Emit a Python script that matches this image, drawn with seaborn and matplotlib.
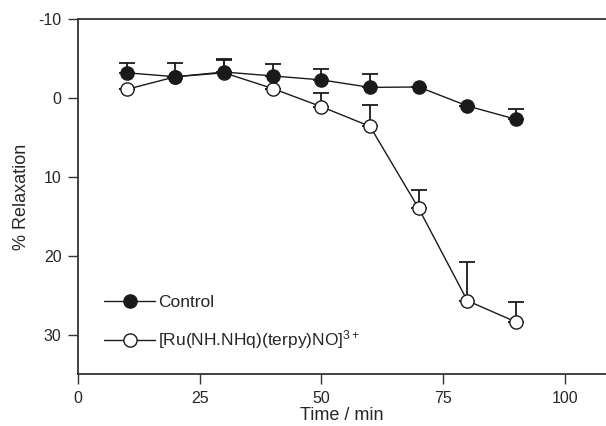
import numpy as np
import pandas as pd
import seaborn as sns
import matplotlib.pyplot as plt

sns.set_style('white')
plt.rcParams['font.family'] = ['Liberation Sans', 'DejaVu Sans']
plt.rcParams['mathtext.default'] = 'regular'
plt.rcParams['axes.unicode_minus'] = False

time_min = [10, 20, 30, 40, 50, 60, 70, 80, 90]
control = [-3.2, -2.7, -3.3, -2.8, -2.3, -1.35, -1.4, 1.0, 2.7]
control_err = [1.3, 1.8, 1.5, 1.5, 1.4, 1.65, 0.0, 0.0, 1.3]
ru_complex = [-1.1, -2.7, -3.2, -1.2, 1.1, 3.6, 14.0, 25.7, 28.4]
ru_complex_err = [0.0, 0.0, 1.7, 0.0, 1.8, 2.7, 2.4, 4.9, 2.5]

labels = ['Control', '[Ru(NH.NHq)(terpy)NO]$^{3+}$']

df = pd.DataFrame({
    'time': time_min * 2,
    'value': control + ru_complex,
    'err': control_err + ru_complex_err,
    'series': [labels[0]] * len(time_min) + [labels[1]] * len(time_min),
})

fig = plt.figure(figsize=(6.06, 4.26), dpi=100)
ax = fig.add_axes([0.129, 0.122, 0.871, 0.833])

ink = '#1a1a1a'
faces = {labels[0]: ink, labels[1]: 'white'}
# control drawn on top of the open circles, as in the original
layer = {labels[0]: 6, labels[1]: 3}

for name in labels:
    sub = df[df['series'] == name]
    # one-sided error bars pointing toward negative values
    ax.errorbar(sub['time'], sub['value'],
                yerr=[sub['err'], np.zeros(len(sub))],
                fmt='none', ecolor=ink, elinewidth=1.3,
                capsize=5.5, capthick=1.3, zorder=layer[name] - 1)
    sns.lineplot(data=sub, x='time', y='value', ax=ax,
                 color=ink, linewidth=1.0, marker='o', markersize=9.5,
                 markerfacecolor=faces[name], markeredgecolor=ink,
                 markeredgewidth=1.0, label=name, zorder=layer[name])

ax.set_xlim(0, 108.5)
ax.set_ylim(35, -10)
ax.set_xticks([0, 25, 50, 75, 100])
ax.set_yticks([-10, 0, 10, 20, 30])

ax.set_xlabel('Time / min', fontsize=13, labelpad=1)
ax.set_ylabel('% Relaxation', fontsize=13, labelpad=6)
ax.tick_params(axis='both', direction='out', length=7, width=1.0,
               labelsize=11.5, color='#333333', pad=5,
               bottom=True, left=True)

for side in ['left', 'bottom', 'top']:
    ax.spines[side].set_color('#333333')
    ax.spines[side].set_linewidth(1.3)
ax.spines['right'].set_visible(False)

leg = ax.legend(loc='lower left', bbox_to_anchor=(0.02, 0.02),
                frameon=False, fontsize=12.5, handlelength=2.9,
                handletextpad=0.2, labelspacing=1.05)

fig.savefig('out.png', dpi=100, facecolor='white')
